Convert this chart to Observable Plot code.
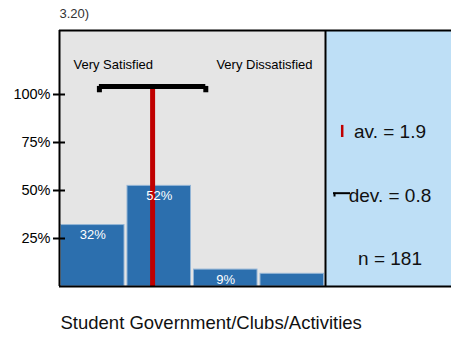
<!DOCTYPE html>
<html><head><meta charset="utf-8">
<script src="https://cdn.jsdelivr.net/npm/d3@7"></script>
<script src="https://cdn.jsdelivr.net/npm/@observablehq/plot@0.6"></script>
<style>
body{margin:0;background:#fff;}
svg{display:block;}
</style>
</head><body><div id="chart"></div>
<script>
const title = "3.20)";
const caption = "Student Government/Clubs/Activities";
const categories = ["Very Satisfied", "Satisfied", "Dissatisfied", "Very Dissatisfied"];
const values = [32, 52.4, 8.8, 6.6];
const barLabels = ["32%", "52%", "9%", ""];
const yTicks = [25, 50, 75, 100];
const yTickLabels = ["25%", "50%", "75%", "100%"];
const scaleEnds = ["Very Satisfied", "Very Dissatisfied"];
const mean = 1.9;
const dev = 0.8;
const n = 181;
const statLabels = ["av. = 1.9", "dev. = 0.8", "n = 181"];

const W = 451, H = 337, mL = 59, mT = 30, mB = 51;
const catW = 66.5;
const xMax = 4.5 + (W - mL - 4 * catW) / catW;
const yMax = (H - mT - mB) / 1.92;
const panelCenter = (4.5 + xMax) / 2;
const bracketY = 104.2;

const bars = categories.map((c, i) => ({cat: c, i: i + 1, v: values[i], label: barLabels[i]}));
const font = "'Liberation Sans', Arial, Helvetica, sans-serif";

const chart = Plot.plot({
  width: W, height: H,
  marginLeft: mL, marginRight: 0, marginTop: mT, marginBottom: mB,
  style: {fontFamily: font, background: "#fff"},
  x: {type: "linear", domain: [0.5, xMax], axis: null},
  y: {type: "linear", domain: [0, yMax], axis: null},
  marks: [
    Plot.rect([0], {x1: 0.5, x2: 4.5, y1: 0, y2: yMax, fill: "#e5e5e5"}),
    Plot.rect([0], {x1: 4.5, x2: xMax, y1: 0, y2: yMax, fill: "#bedff6"}),
    Plot.rect(bars, {x1: d => d.i - 0.5, x2: d => d.i + 0.5, y1: 0, y2: "v",
      fill: "#2c6fae", stroke: "#93b5d6", strokeWidth: 1, insetLeft: 1.5, insetRight: 1.5}),
    Plot.ruleX([mean], {y1: 0, y2: bracketY, stroke: "#c00000", strokeWidth: 5}),
    Plot.ruleY([bracketY], {x1: mean - dev, x2: mean + dev, stroke: "black", strokeWidth: 5}),
    Plot.ruleX([mean - dev, mean + dev], {y1: 100.9, y2: bracketY, stroke: "black", strokeWidth: 5}),
    Plot.text(bars, {x: "i", y: "v", text: "label", dy: 10, fill: "white", fontSize: 13}),
    Plot.ruleY([0, yMax], {x1: 0.5, x2: xMax, stroke: "black", strokeWidth: 2}),
    Plot.ruleX([0.5, 4.5], {y1: 0, y2: yMax, stroke: "black", strokeWidth: 2}),
    Plot.axisY(yTicks, {anchor: "left", label: null, tickSize: 12, dx: 6, strokeWidth: 2,
      stroke: "black", tickFormat: () => ""}),
    Plot.text(yTicks, {y: d => d, text: (d, i) => yTickLabels[i], frameAnchor: "left", dx: -9,
      textAnchor: "end", fontSize: 14.5, fill: "black"}),
    Plot.text([scaleEnds[0]], {x: 0.5, y: 115.5, dx: 14, textAnchor: "start", fontSize: 13, fill: "black"}),
    Plot.text([scaleEnds[1]], {x: 4.5, y: 115.5, dx: -13, textAnchor: "end", fontSize: 13, fill: "black"}),
    Plot.text([title], {frameAnchor: "top-left", dy: -21.5, textAnchor: "start", fontSize: 13, fill: "#333"}),
    Plot.text([caption], {frameAnchor: "bottom-left", dy: 42, dx: 1, textAnchor: "start", fontSize: 18.5, fill: "#111"}),
    Plot.text(statLabels, {x: panelCenter, y: (d, i) => [80.4, 47.3, 14.3][i], dx: 1.5, fontSize: 19, fill: "#111"}),
    Plot.ruleX([4.5], {dx: 16.7, y1: 77.6, y2: 83.9, stroke: "#c00000", strokeWidth: 2.5}),
    Plot.ruleY([48.6], {x1: 4.5, x2: 4.5 + 17 / catW, dx: 8, stroke: "black", strokeWidth: 2}),
    Plot.ruleX([4.5], {dx: 9, y1: 46.6, y2: 48.6, stroke: "black", strokeWidth: 2})
  ]
});
document.getElementById("chart").appendChild(chart);
</script>
</body></html>
